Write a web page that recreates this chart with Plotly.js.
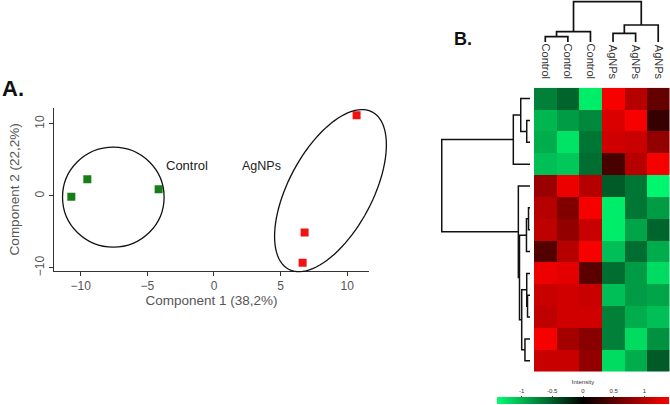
<!DOCTYPE html>
<html><head><meta charset="utf-8">
<script src="https://cdn.plot.ly/plotly-3.0.1.min.js"></script>
<style>html,body{margin:0;padding:0;background:#fff}#chart{width:670px;height:405px}</style>
</head><body><div id="chart"></div>
<script>
const W = 670, H = 405;

// ---- Panel A: PCA scores ----
const controlX = [-10.7, -9.5, -4.15];
const controlY = [-0.14, 2.3, 0.93];
const agnpX = [10.7, 6.8, 6.65];
const agnpY = [11.2, -5.1, -9.3];
const groupLabels = ['Control', 'AgNPs'];
const pcaXTitle = 'Component 1 (38,2%)';
const pcaYTitle = 'Component 2 (22,2%)';
const pcaXRange = [-12.0, 11.63];
const pcaYRange = [-10.4, 12.2];
// group outlines (centre and conjugate semi-axes, data units)
const ctrlCentre = [-7.55, -0.18], ctrlRadii = [3.81, 6.94];
const agCentre = [8.74, 0.72], agU = [3.14, 10.92], agV = [2.78, -2.74];

// ---- Panel B: heatmap ----
const sampleLabels = ['Control', 'Control', 'Control', 'AgNPs', 'AgNPs', 'AgNPs'];
const intensity = [
  [-0.7, -0.55, -1.3, 1.35, 1.0, 0.55],
  [-1.0, -0.85, -0.75, 1.2, 1.35, 0.3],
  [-0.95, -1.25, -0.65, 1.15, 1.1, 0.8],
  [-1.05, -1.1, -0.6, 0.4, 1.0, 1.35],
  [0.85, 1.3, 1.0, -0.5, -0.65, -1.35],
  [1.0, 0.7, 1.35, -1.3, -0.65, -0.85],
  [1.05, 0.8, 1.1, -1.3, -0.9, -0.55],
  [0.45, 1.0, 1.35, -1.05, -0.6, -0.95],
  [1.3, 1.25, 0.5, -0.6, -0.85, -1.2],
  [1.1, 1.15, 1.1, -1.05, -0.85, -0.9],
  [1.05, 1.15, 1.15, -0.7, -0.95, -1.05],
  [1.35, 0.9, 0.75, -0.7, -1.2, -0.8],
  [1.1, 1.1, 0.8, -1.2, -0.95, -0.5]
];
// dendrogram merges: [nodeA, nodeB, height]; leaves first, then merges numbered in order
const colMerges = [[0, 1, 13.2], [6, 2, 25.6], [3, 4, 21.6], [8, 5, 42.2], [7, 9, 100]];
const rowMerges = [[1, 2, 3.7], [0, 13, 10.5], [14, 3, 18.9], [5, 6, 1.7], [16, 7, 4.0], [9, 10, 2.8],
  [8, 18, 3.7], [11, 12, 5.7], [19, 20, 9.4], [17, 21, 11.9], [4, 22, 13.2], [15, 23, 100]];
const cbTickVals = [-1, -0.5, 0, 0.5, 1];
const cbTickText = ['-1', '-0.5', '0', '0.5', '1'];
const cbTitle = 'Intensity';
const zLimits = [-1.4, 1.4];

function dendro(n, merges) {
  const pos = [], ht = [], p = [], h = [];
  for (let i = 0; i < n; i++) { pos[i] = i; ht[i] = 0; }
  merges.forEach(([a, b, hh], k) => {
    const id = n + k;
    pos[id] = (pos[a] + pos[b]) / 2; ht[id] = hh;
    p.push(pos[a], pos[a], pos[b], pos[b], null);
    h.push(ht[a], hh, hh, ht[b], null);
  });
  return { pos: p, height: h };
}
const colD = dendro(sampleLabels.length, colMerges);
const rowD = dendro(intensity.length, rowMerges);

// ellipse path in domain fractions of the PCA axes
function ellipsePath(c, u, v) {
  let s = '';
  for (let i = 0; i <= 96; i++) {
    const t = 2 * Math.PI * i / 96;
    const x = c[0] + u[0] * Math.cos(t) + v[0] * Math.sin(t);
    const y = c[1] + u[1] * Math.cos(t) + v[1] * Math.sin(t);
    const fx = (x - pcaXRange[0]) / (pcaXRange[1] - pcaXRange[0]);
    const fy = (y - pcaYRange[0]) / (pcaYRange[1] - pcaYRange[0]);
    s += (i ? 'L' : 'M') + fx.toFixed(5) + ',' + fy.toFixed(5);
  }
  return s + 'Z';
}

const font = 'Liberation Sans, Arial, sans-serif';
const rows = intensity.map((r, i) => i);
const cols = sampleLabels.map((s, i) => i);

const traces = [
  { type: 'scatter', mode: 'markers', x: controlX, y: controlY, xaxis: 'x', yaxis: 'y',
    marker: { symbol: 'square', size: 8, color: '#177d17' }, hoverinfo: 'skip' },
  { type: 'scatter', mode: 'markers', x: agnpX, y: agnpY, xaxis: 'x', yaxis: 'y',
    marker: { symbol: 'square', size: 8, color: '#f21212' }, hoverinfo: 'skip' },
  { type: 'heatmap', z: intensity, x: cols, y: rows, xaxis: 'x2', yaxis: 'y2',
    zmin: zLimits[0], zmax: zLimits[1],
    colorscale: [[0, '#00ff72'], [0.5, '#000000'], [1, '#ff0000']],
    colorbar: { orientation: 'h', thickness: 7, len: (669 - 497) / W, lenmode: 'fraction',
      x: 583 / W, xanchor: 'center', y: 1 / H, yanchor: 'bottom', ypad: 0, xpad: 0,
      outlinewidth: 0, showticklabels: false, ticks: '', title: { text: '' } },
    hoverinfo: 'skip' },
  { type: 'scatter', mode: 'lines', x: colD.pos, y: colD.height, xaxis: 'x2', yaxis: 'y3',
    line: { color: '#111', width: 1.7 }, hoverinfo: 'skip' },
  { type: 'scatter', mode: 'lines', x: rowD.height, y: rowD.pos, xaxis: 'x3', yaxis: 'y2',
    line: { color: '#111', width: 1.5 }, hoverinfo: 'skip' },
  { type: 'scatter', mode: 'markers', x: [], y: [], xaxis: 'x4', yaxis: 'y4', hoverinfo: 'skip' }
];

const layout = {
  width: W, height: H, margin: { l: 0, r: 0, t: 0, b: 0, autoexpand: false },
  paper_bgcolor: '#fff', plot_bgcolor: 'rgba(0,0,0,0)', showlegend: false,
  font: { family: font, color: '#444' },
  xaxis: { domain: [54 / W, 369 / W], range: pcaXRange, dtick: 5, showgrid: false, zeroline: false,
    showline: true, linecolor: '#333', linewidth: 1.3, ticks: 'outside', ticklen: 4, tickcolor: '#333',
    tickfont: { size: 12, color: '#555' }, anchor: 'y',
    title: { text: pcaXTitle, font: { size: 13.5, color: '#555' }, standoff: 2 } },
  yaxis: { domain: [1 - 270.7 / H, 1 - 108 / H], range: pcaYRange, dtick: 10, showgrid: false, zeroline: false,
    showline: true, linecolor: '#333', linewidth: 1.3, ticks: 'outside', ticklen: 4, tickcolor: '#333',
    tickangle: -90, tickfont: { size: 12, color: '#555' }, anchor: 'x',
    title: { text: pcaYTitle, font: { size: 13.5, color: '#555' }, standoff: 10 } },
  xaxis2: { domain: [534 / W, 669.5 / W], range: [-0.5, 5.5], anchor: 'y2', side: 'top',
    tickvals: cols, ticktext: sampleLabels, tickangle: 90, ticks: '', ticklabelstandoff: 6,
    tickfont: { size: 11, color: '#333' }, showgrid: false, zeroline: false, showline: false },
  yaxis2: { domain: [1 - 371.7 / H, 1 - 87.7 / H], range: [intensity.length - 0.5, -0.5], anchor: 'x2',
    showticklabels: false, ticks: '', showgrid: false, zeroline: false, showline: false },
  xaxis3: { domain: [436 / W, 532 / W], range: [106.5, -2.27], anchor: 'y2', visible: false },
  yaxis3: { domain: [1 - 43 / H, 1], range: [-2.48, 104.2], anchor: 'x2', visible: false },
  xaxis4: { domain: [497 / W, 669 / W], range: zLimits, anchor: 'y4', side: 'top',
    tickvals: cbTickVals, ticktext: cbTickText, ticks: 'outside', ticklen: 2, tickcolor: '#444',
    tickfont: { size: 6, color: '#333' }, showgrid: false, zeroline: false, showline: false,
    title: { text: cbTitle, font: { size: 6, color: '#333' }, standoff: 2 } },
  yaxis4: { domain: [1 - 400 / H, 1 - 398.5 / H], anchor: 'x4', visible: false },
  shapes: [
    { type: 'circle', xref: 'x', yref: 'y',
      x0: ctrlCentre[0] - ctrlRadii[0], x1: ctrlCentre[0] + ctrlRadii[0],
      y0: ctrlCentre[1] - ctrlRadii[1], y1: ctrlCentre[1] + ctrlRadii[1],
      line: { color: '#111', width: 1.3 } },
    { type: 'path', xref: 'x domain', yref: 'y domain', path: ellipsePath(agCentre, agU, agV),
      line: { color: '#111', width: 1.3 } }
  ],
  annotations: [
    { text: '<b>A.</b>', xref: 'paper', yref: 'paper', x: 0, y: 1 - 88.5 / H, xanchor: 'left', yanchor: 'middle',
      showarrow: false, font: { size: 22, color: '#111', family: font } },
    { text: '<b>B.</b>', xref: 'paper', yref: 'paper', x: 463 / W, y: 1 - 38.5 / H, xanchor: 'center', yanchor: 'middle',
      showarrow: false, font: { size: 18, color: '#111', family: font } },
    { text: groupLabels[0], xref: 'x', yref: 'y', x: -2.05, y: 4.17, showarrow: false,
      font: { size: 13, color: '#222' } },
    { text: groupLabels[1], xref: 'x', yref: 'y', x: 3.6, y: 4.17, showarrow: false,
      font: { size: 12.5, color: '#222' } }
  ]
};

Plotly.newPlot('chart', traces, layout, { staticPlot: true, displayModeBar: false });
</script></body></html>
